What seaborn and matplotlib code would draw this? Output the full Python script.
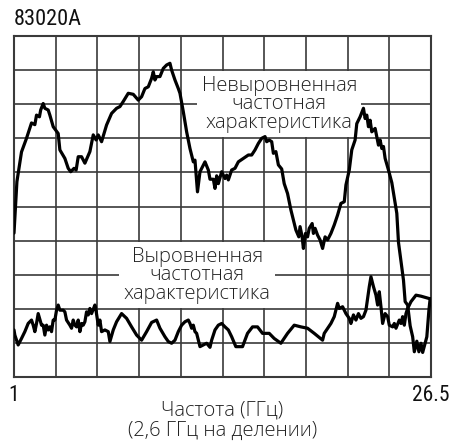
#recreating the 83020A response plot (flat vs raw frequency response)
import numpy as np
import pandas as pd
import matplotlib
matplotlib.use("Agg")
import matplotlib.pyplot as plt
import seaborn as sns

##DATA## (x in grid divisions, 2.55 GHz each from 1 GHz; y in grid divisions)
f_start = 1.0
f_stop = 26.5
n_div = 10

raw_div = [0.00, 0.07, 0.18, 0.30, 0.42, 0.50, 0.54, 0.61, 0.64, 0.70, 0.74, 0.82, 0.86, 0.94,
           1.06, 1.10, 1.22, 1.30, 1.36, 1.44, 1.49, 1.54, 1.62, 1.70, 1.82, 1.90, 1.97, 2.02,
           2.10, 2.22, 2.34, 2.46, 2.54, 2.62, 2.74, 2.86, 2.98, 3.06, 3.14, 3.22, 3.30, 3.34,
           3.38, 3.42, 3.50, 3.58, 3.66, 3.74, 3.78, 3.86, 3.94, 3.98, 4.06, 4.14, 4.22, 4.30,
           4.34, 4.40, 4.46, 4.58, 4.66, 4.70, 4.78, 4.82, 4.86, 4.90, 4.98, 5.06, 5.10, 5.14,
           5.22, 5.30, 5.38, 5.50, 5.62, 5.70, 5.78, 5.86, 5.94, 6.02, 6.06, 6.12, 6.18, 6.22,
           6.28, 6.34, 6.42, 6.48, 6.56, 6.64, 6.68, 6.76, 6.83, 6.86, 6.91, 6.94, 6.99, 7.04,
           7.08, 7.15, 7.18, 7.22, 7.28, 7.34, 7.40, 7.46, 7.52, 7.60, 7.68, 7.76, 7.84, 7.92,
           7.96, 8.04, 8.10, 8.18, 8.22, 8.30, 8.38, 8.42, 8.46, 8.50, 8.54, 8.58, 8.66, 8.74,
           8.78, 8.82, 8.86, 8.90, 8.98, 9.06, 9.12, 9.18, 9.22, 9.28, 9.34, 9.38, 9.44, 9.50,
           9.56, 9.60, 9.66, 9.71, 9.76, 9.80, 9.86, 9.90, 9.95, 9.98]
raw_level = [4.22, 5.73, 6.60, 7.00, 7.45, 7.40, 7.68, 7.63, 7.83, 8.02, 7.88, 7.83, 7.68, 7.34,
             7.14, 6.66, 6.41, 6.12, 6.02, 6.12, 6.07, 6.46, 6.46, 6.27, 6.61, 7.10, 6.95, 7.10,
             6.90, 7.39, 7.73, 7.88, 7.93, 8.08, 8.32, 8.29, 8.12, 8.22, 8.46, 8.51, 8.76, 8.95,
             8.71, 8.81, 8.81, 9.05, 9.15, 9.20, 9.00, 8.71, 8.46, 8.32, 7.78, 7.19, 6.70, 6.31,
             6.36, 5.43, 6.02, 6.31, 6.07, 5.80, 5.80, 5.53, 5.90, 5.67, 6.02, 5.82, 5.92, 5.78,
             6.07, 6.12, 6.31, 6.41, 6.51, 6.51, 6.66, 6.85, 7.00, 7.05, 6.90, 6.95, 6.90, 6.56,
             6.61, 6.22, 6.10, 5.67, 5.38, 4.90, 4.70, 4.31, 4.11, 4.41, 4.11, 3.77, 4.21, 4.11,
             4.36, 4.50, 4.21, 4.36, 4.16, 4.02, 3.77, 4.11, 4.02, 4.21, 4.46, 4.75, 5.09, 5.14,
             5.63, 6.07, 6.66, 6.95, 7.43, 7.63, 7.88, 7.58, 7.68, 7.34, 7.53, 7.19, 7.29, 6.80,
             6.95, 6.70, 6.76, 6.41, 6.07, 5.70, 5.25, 4.80, 3.95, 3.40, 2.84, 2.21, 2.11, 1.50,
             1.18, 0.74, 1.05, 0.74, 0.99, 0.72, 1.00, 1.18, 1.96, 2.30]

flat_div = [0.00, 0.02, 0.10, 0.18, 0.26, 0.34, 0.42, 0.46, 0.50, 0.54, 0.58, 0.66, 0.70, 0.74,
            0.78, 0.82, 0.86, 0.90, 0.94, 0.98, 1.02, 1.06, 1.10, 1.18, 1.22, 1.26, 1.34, 1.38,
            1.42, 1.46, 1.50, 1.54, 1.58, 1.62, 1.66, 1.70, 1.74, 1.78, 1.82, 1.86, 1.94, 1.96,
            2.00, 2.02, 2.06, 2.10, 2.18, 2.26, 2.30, 2.38, 2.46, 2.58, 2.70, 2.82, 2.94, 3.06,
            3.18, 3.30, 3.42, 3.50, 3.62, 3.70, 3.78, 3.86, 3.94, 4.02, 4.10, 4.18, 4.22, 4.26,
            4.30, 4.34, 4.38, 4.42, 4.46, 4.54, 4.62, 4.70, 4.74, 4.82, 4.90, 4.98, 5.06, 5.14,
            5.22, 5.32, 5.48, 5.60, 5.72, 5.84, 5.96, 6.12, 6.24, 6.40, 6.56, 6.72, 6.88, 7.04,
            7.20, 7.40, 7.44, 7.60, 7.68, 7.76, 7.80, 7.88, 7.96, 8.04, 8.08, 8.14, 8.20, 8.26,
            8.32, 8.38, 8.44, 8.52, 8.56, 8.62, 8.68, 8.72, 8.76, 8.80, 8.84, 8.90, 8.96, 9.00,
            9.08, 9.12, 9.16, 9.24, 9.28, 9.32, 9.36, 9.40, 9.44, 9.52, 9.64, 9.76, 9.88, 9.96]
flat_level = [1.38, 1.23, 0.94, 1.13, 1.33, 1.57, 1.67, 1.52, 1.33, 1.57, 1.86, 1.52, 1.52, 1.23,
              1.52, 1.38, 1.47, 1.33, 1.67, 1.67, 1.96, 2.11, 1.96, 1.96, 1.91, 1.67, 1.52, 1.43,
              1.67, 1.52, 1.47, 1.67, 1.33, 1.57, 1.52, 1.62, 1.91, 1.82, 2.01, 1.86, 2.11, 2.01,
              1.67, 1.52, 1.67, 1.33, 1.38, 1.33, 1.04, 1.38, 1.62, 1.86, 1.72, 1.47, 1.23, 1.08,
              1.33, 1.60, 1.67, 1.43, 1.18, 1.04, 0.99, 1.08, 1.33, 1.52, 1.62, 1.67, 1.57, 1.43,
              1.52, 1.33, 1.28, 1.08, 0.89, 0.94, 0.99, 0.87, 1.08, 1.38, 1.52, 1.57, 1.47, 1.38,
              1.18, 0.89, 0.89, 1.28, 1.47, 1.47, 1.28, 1.28, 1.13, 0.99, 1.28, 1.52, 1.47, 1.43,
              1.28, 1.08, 1.28, 1.57, 1.77, 2.16, 2.01, 2.06, 1.86, 1.72, 1.57, 1.82, 1.67, 1.86,
              1.72, 1.77, 1.96, 2.65, 2.94, 2.65, 2.40, 2.11, 2.50, 2.06, 1.57, 1.86, 1.77, 1.52,
              1.47, 1.57, 1.43, 1.67, 1.57, 1.77, 1.52, 1.86, 2.01, 2.21, 2.40, 2.37, 2.33, 2.30]

model_name = "83020A"
raw_label = "Невыровненная\nчастотная\nхарактеристика"
flat_label = "Выровненная\nчастотная\nхарактеристика"
x_label = "Частота (ГГц)\n(2,6 ГГц на делении)"

step = (f_stop - f_start) / n_div
raw_df = pd.DataFrame({"ghz": f_start + step * np.array(raw_div), "level": raw_level})
flat_df = pd.DataFrame({"ghz": f_start + step * np.array(flat_div), "level": flat_level})

##PLOT##
sns.set_style("white")
light = ["Open Sans", "DejaVu Sans"]
narrow = ["Roboto Condensed", "Liberation Sans Narrow", "DejaVu Sans"]

fig = plt.figure(figsize=(4.56, 4.45), dpi=100)
ax = fig.add_axes([14 / 456, 1 - 377 / 445, 417 / 456, 341 / 445])

sns.lineplot(data=raw_df, x="ghz", y="level", ax=ax, color="black", lw=2.3,
             sort=False, estimator=None, zorder=4)
sns.lineplot(data=flat_df, x="ghz", y="level", ax=ax, color="black", lw=2.3,
             sort=False, estimator=None, zorder=4)

ax.set_xlim(f_start, f_stop)
ax.set_ylim(0, n_div)
ticks = f_start + step * np.arange(n_div + 1)
ax.set_xticks(ticks)
ax.set_xticklabels(["1"] + [""] * (n_div - 1) + ["26.5"], family=narrow, fontsize=15.5,
                   color="#111111")
ax.set_yticks(np.arange(n_div + 1))
ax.set_yticklabels([])
ax.tick_params(length=0, pad=6)
ax.grid(True, color="#3a3a3a", lw=1.2)
for s in ax.spines.values():
    s.set_color("#3a3a3a")
    s.set_linewidth(1.5)

ax.set_xlabel(x_label, family=light, fontweight="light", fontsize=14.5, labelpad=-4,
              color="#222222", linespacing=1.0)
ax.set_ylabel("")

box = dict(facecolor="white", edgecolor="none", pad=3)
ax.text(0.636, 0.80, raw_label, transform=ax.transAxes, ha="center", va="center",
        family=light, fontweight="light", fontsize=14.5, linespacing=0.9, bbox=box, zorder=3,
        color="#222222")
ax.text(0.439, 0.299, flat_label, transform=ax.transAxes, ha="center", va="center",
        family=light, fontweight="light", fontsize=14.5, linespacing=0.9, bbox=box, zorder=3,
        color="#222222")

fig.text(14 / 456, 1 - 25 / 445, model_name, family=narrow, fontsize=16, ha="left",
         va="baseline", color="#111111")

fig.savefig("out.png", dpi=100)
